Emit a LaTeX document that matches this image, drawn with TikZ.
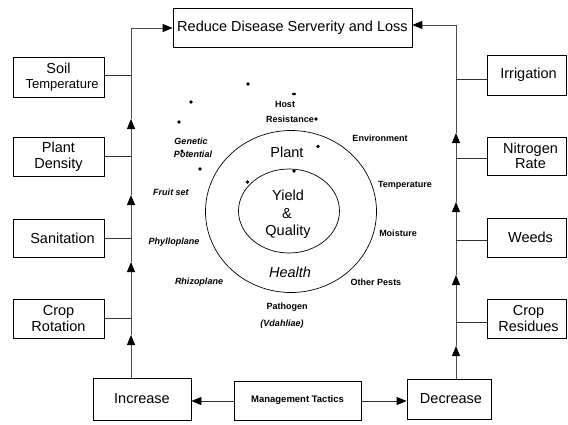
\documentclass[tikz,border=0pt]{standalone}
\usepackage{fontspec}
\setmainfont{Liberation Sans}
\usetikzlibrary{arrows.meta}
\newcommand\bxfnt{\fontsize{14.5}{15.5}\selectfont}
\newcommand\smfnt{\fontsize{9}{10}\selectfont\bfseries}
\newcommand\smifnt{\fontsize{9}{10}\selectfont\bfseries\itshape}
\begin{document}
\begin{tikzpicture}[x=1pt,y=-1pt,
  box/.style={draw, line width=0.8pt, inner sep=0pt, align=center, font=\bxfnt},
  ln/.style={draw=black!70, line width=0.9pt},
  cn/.style={draw=black!80, line width=0.8pt},
  arr/.style={ln, -{Triangle[length=10pt,width=8pt,color=black]}},
  lbl/.style={inner sep=0pt, font=\smfnt},
  ilbl/.style={inner sep=0pt, font=\smifnt},
  big/.style={inner sep=0pt, font=\bxfnt},
  dot/.style={fill=black}]
\fill[white] (0,0) rectangle (568,424);
\useasboundingbox (0,0) rectangle (568,424);
% boxes
\node[box, minimum width=239pt, minimum height=39pt] (top) at (292.5,27.5) {Reduce Disease Serverity and Loss};
\node[box, minimum width=91pt, minimum height=40pt] (soil) at (58.5,77) {Soil\\{\fontsize{13}{14}\selectfont\ \ Temperature}};
\node[box, minimum width=91pt, minimum height=39pt] (dens) at (58.5,156.5) {Plant\\Density};
\node[box, minimum width=91pt, minimum height=38pt] (sani) at (58.5,238) {\ \ Sanitation};
\node[box, minimum width=91pt, minimum height=39pt] (rota) at (58.5,318.5) {Crop\\Rotation};
\node[box, minimum width=79pt, minimum height=40pt] (irri) at (526.5,75) {\ Irrigation};
\node[box, minimum width=79pt, minimum height=38pt] (nitr) at (526.5,156) {\ \ Nitrogen\\\ \ Rate};
\node[box, minimum width=79pt, minimum height=39pt] (weed) at (526.5,237.5) {\ \ Weeds};
\node[box, minimum width=79pt, minimum height=39pt] (resi) at (526.5,318.5) {\ Crop\\\ Residues};
\node[box, minimum width=98pt, minimum height=42pt] (incr) at (142,399) {Increase};
\node[box, minimum width=127pt, minimum height=39pt, font=\fontsize{9.5}{10}\selectfont\bfseries] (mgmt) at (297.5,400.5) {Management Tactics};
\node[box, minimum width=84pt, minimum height=40pt] (decr) at (449,399) {\ Decrease};
% left spine
\coordinate (l1) at (131,335);
\coordinate (l2) at (131,262);
\coordinate (l3) at (131,195);
\coordinate (l4) at (131,119);
\coordinate (lc) at (131,28);
\draw[arr] (incr.north -| l1) -- (l1);
\draw[arr] (l1) -- (l2);
\draw[arr] (l2) -- (l3);
\draw[arr] (l3) -- (l4);
\draw[arr] (l4) -- (lc) -- (top.west |- lc);
\draw[cn] (soil.east |- 0,75) -- (l1 |- 0,75);
\draw[cn] (dens.east) -- (dens.east -| l1);
\draw[cn] (sani.east) -- (sani.east -| l1);
\draw[cn] (rota.east) -- (rota.east -| l1);
% right spine
\coordinate (r1) at (456,346);
\coordinate (r2) at (456,275);
\coordinate (r3) at (456,202);
\coordinate (r4) at (456,133);
\coordinate (rc) at (456,25);
\draw[arr] (decr.north -| r1) -- (r1);
\draw[arr] (r1) -- (r2);
\draw[arr] (r2) -- (r3);
\draw[arr] (r3) -- (r4);
\draw[arr] (r4) -- (rc) -- (top.east |- rc);
\draw[cn] (irri.west |- 0,79) -- (r1 |- 0,79);
\draw[cn] (nitr.west |- 0,158) -- (r1 |- 0,158);
\draw[cn] (weed.west |- 0,240) -- (r1 |- 0,240);
\draw[cn] (resi.west |- 0,322) -- (r1 |- 0,322);
% bottom
\draw[cn, -{Triangle[length=10pt,width=8pt,color=black]}] (mgmt.west |- 0,401) -- (incr.east |- 0,401);
\draw[cn, -{Triangle[length=10pt,width=8pt,color=black]}] (mgmt.east |- 0,401) -- (decr.west |- 0,401);
% circles
\draw[line width=0.7pt] (291,211.5) ellipse [x radius=85.5pt, y radius=81pt];
\draw[line width=0.7pt] (289,211) ellipse [x radius=50.5pt, y radius=42pt];
\node[big] (plant) at (287,152) {Plant};
\node[big] (yield) at (288,195) {Yield};
\node[big] (amp) at (287,214) {\&};
\node[big] (qual) at (288,232) {Quality};
\node[big, font=\bxfnt\itshape] (health) at (290,272) {Health};
% labels
\node[lbl] (host) at (285,104) {Host};
\node[lbl] (resist) at (290,119) {Resistance};
\node[lbl] (env) at (380,138) {Environment};
\node[lbl] (temp) at (405,185) {Temperature};
\node[lbl] (moist) at (398,233) {Moisture};
\node[lbl] (pests) at (376,282) {Other Pests};
\node[lbl] (path) at (287,307) {Pathogen};
\node[ilbl] (vdah) at (282,324) {(Vdahliae)};
\node[ilbl] (rhizo) at (199,282) {Rhizoplane};
\node[ilbl] (phyllo) at (174,242) {Phylloplane};
\node[ilbl] (fruit) at (171,192) {Fruit set};
\node[ilbl] (gen) at (191,141) {Genetic};
\node[ilbl] (pot) at (193,154) {Potential};
% dots
\fill[dot] (248,84) circle[radius=1.9pt];
\fill[dot] (294,94) ellipse [x radius=2pt, y radius=1.3pt];
\fill[dot] (191,102) circle[radius=1.9pt];
\fill[dot] (179,122) circle[radius=1.9pt];
\fill[dot] (316,119) circle[radius=1.9pt];
\fill[dot] (318,146.5) circle[radius=1.9pt];
\fill[dot] (182,151) circle[radius=1.6pt];
\fill[dot] (200,169) circle[radius=1.9pt];
\fill[dot] (294,171) circle[radius=1.9pt];
\fill[dot] (247.5,182) circle[radius=1.9pt];
\end{tikzpicture}
\end{document}
